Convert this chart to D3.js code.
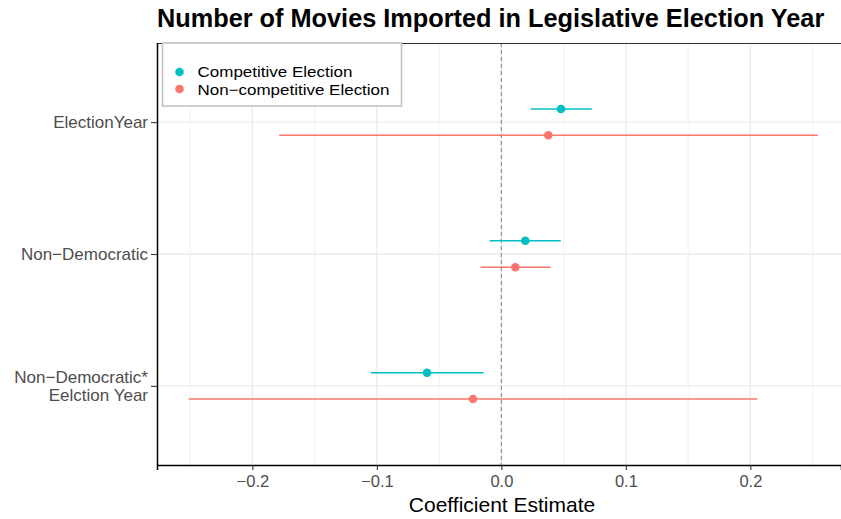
<!DOCTYPE html>
<html>
<head>
<meta charset="utf-8">
<script src="https://cdn.jsdelivr.net/npm/d3@7"></script>
<style>
  body { margin: 0; background: #fff; }
  text { font-family: "Liberation Sans", Arial, sans-serif; }
</style>
</head>
<body>
<div class="CoefPlot"></div>
<script>
// data
const terms = ["ElectionYear", "Non\u2212Democratic", "Non\u2212Democratic*\nEelction Year"]
const groups = ["Competitive Election", "Non\u2212competitive Election"]
const colors = ["#00BFC4", "#F8766D"]
const estComp = [0.0479, 0.0192, -0.0597]
const lowComp = [0.0235, -0.0095, -0.1048]
const highComp = [0.0726, 0.0477, -0.0143]
const estNon = [0.0377, 0.0112, -0.0228]
const lowNon = [-0.1784, -0.0167, -0.2512]
const highNon = [0.2541, 0.0396, 0.2056]
const xTicks = [-0.2, -0.1, 0, 0.1, 0.2]
const xMinor = [-0.25, -0.15, -0.05, 0.05, 0.15, 0.25]

const rows = []
terms.forEach((t, i) => {
  rows.push({term: t, group: 0, est: estComp[i], lo: lowComp[i], hi: highComp[i]})
  rows.push({term: t, group: 1, est: estNon[i], lo: lowNon[i], hi: highNon[i]})
})

const width = 841
const height = 519
const margin = ({top: 43, right: 0, bottom: 54, left: 157})

let x = d3.scaleLinear()
  .domain([-0.2766, 0.2728])
  .range([margin.left, width - margin.right])

// discrete axis, ggplot style expansion of 0.6 each side
let y = d3.scaleLinear()
  .domain([0.4, 3.6])
  .range([margin.top, height - margin.bottom])

const dodge = 0.1

const svg = d3.select(".CoefPlot").append("svg")
  .attr("width", width)
  .attr("height", height)
  .attr("viewBox", [0, 0, width, height])

// grid
let grid = g => g
  .attr("stroke", "#EBEBEB")
  .call(g => g.append("g")
    .attr("stroke-width", 0.7)
    .selectAll("line")
    .data(xMinor)
    .join("line")
      .attr("x1", d => x(d))
      .attr("x2", d => x(d))
      .attr("y1", margin.top)
      .attr("y2", height - margin.bottom))
  .call(g => g.append("g")
    .attr("stroke-width", 1.4)
    .selectAll("line")
    .data(xTicks)
    .join("line")
      .attr("x1", d => x(d))
      .attr("x2", d => x(d))
      .attr("y1", margin.top)
      .attr("y2", height - margin.bottom))
  .call(g => g.append("g")
    .attr("stroke-width", 1.4)
    .selectAll("line")
    .data(terms)
    .join("line")
      .attr("y1", (d, i) => y(i + 1))
      .attr("y2", (d, i) => y(i + 1))
      .attr("x1", margin.left)
      .attr("x2", width - margin.right))

svg.append("g").call(grid)

// zero reference line
svg.append("line")
  .attr("x1", x(0)).attr("x2", x(0))
  .attr("y1", margin.top).attr("y2", height - margin.bottom)
  .attr("stroke", "#8C8C8C")
  .attr("stroke-width", 1.1)
  .attr("stroke-dasharray", "4,3")

// top border of the panel
svg.append("line")
  .attr("x1", margin.left).attr("x2", width)
  .attr("y1", margin.top + 0.5).attr("y2", margin.top + 0.5)
  .attr("stroke", "#333")
  .attr("stroke-width", 1)

// intervals and points
const yPos = d => y(terms.indexOf(d.term) + 1 + (d.group === 0 ? -dodge : dodge))

svg.append("g")
  .attr("stroke-width", 1.5)
  .selectAll("line")
  .data(rows)
  .join("line")
    .attr("x1", d => x(d.lo))
    .attr("x2", d => x(d.hi))
    .attr("y1", yPos)
    .attr("y2", yPos)
    .attr("stroke", d => colors[d.group])

svg.append("g")
  .selectAll("circle")
  .data(rows)
  .join("circle")
    .attr("cx", d => x(d.est))
    .attr("cy", yPos)
    .attr("r", 4.3)
    .attr("fill", d => colors[d.group])

// axes
let xAxis = g => g
  .attr("transform", `translate(0,${height - margin.bottom})`)
  .call(d3.axisBottom(x).tickValues(xTicks).tickSize(5).tickPadding(5)
    .tickFormat(d => d === 0 ? "0.0" : d3.format(".1f")(d).replace("-", "\u2212")))
  .call(g => g.select(".domain").attr("stroke", "#000").attr("stroke-width", 1.5))
  .call(g => g.selectAll(".tick line").attr("stroke", "#333").attr("stroke-width", 1.1))
  .call(g => g.selectAll(".tick text").attr("fill", "#4D4D4D").attr("font-size", 16.5)
    .attr("font-family", "Liberation Sans, Arial, sans-serif"))

let yAxis = g => g
  .attr("transform", `translate(${margin.left},0)`)
  .call(d3.axisLeft(y).tickValues([1, 2, 3]).tickSize(6).tickFormat(""))
  .call(g => g.select(".domain").attr("stroke", "#000").attr("stroke-width", 1.5)
    .attr("d", `M0.5,${margin.top}V${height - margin.bottom}`))
  .call(g => g.selectAll(".tick line").attr("stroke", "#333").attr("stroke-width", 1.1))

svg.append("g").call(xAxis)
svg.append("g").call(yAxis)

// y labels (multi line)
svg.append("g")
  .attr("fill", "#4D4D4D")
  .attr("font-size", 17)
  .attr("text-anchor", "end")
  .selectAll("text")
  .data(terms)
  .join("text")
    .attr("transform", (d, i) => {
      const n = d.split("\n").length
      return `translate(${margin.left - 9},${y(i + 1) + 6 - (n - 1) * 9})`
    })
    .selectAll("tspan")
    .data(d => d.split("\n"))
    .join("tspan")
      .attr("x", 0)
      .attr("dy", (d, i) => i === 0 ? 0 : 18)
      .text(d => d)

// axis title
svg.append("text")
  .attr("x", (margin.left + width) / 2 + 3)
  .attr("y", height - 7)
  .attr("text-anchor", "middle")
  .attr("font-size", 21)
  .attr("fill", "#000")
  .text("Coefficient Estimate")

// title
svg.append("text")
  .attr("x", margin.left)
  .attr("y", 27)
  .attr("font-size", 25.3)
  .attr("font-weight", "bold")
  .attr("fill", "#000")
  .text("Number of Movies Imported in Legislative Election Year")

// legend
const legendWidths = [155, 192]
const legend = svg.append("g")
  .attr("transform", "translate(162.5,43)")
legend.append("rect")
  .attr("width", 239)
  .attr("height", 63)
  .attr("fill", "#fff")
  .attr("stroke", "#BEBEBE")
  .attr("stroke-width", 1.5)
legend.selectAll("circle")
  .data(groups)
  .join("circle")
    .attr("cx", 17)
    .attr("cy", (d, i) => 29 + i * 17)
    .attr("r", 4.3)
    .attr("fill", (d, i) => colors[i])
legend.selectAll("text")
  .data(groups)
  .join("text")
    .attr("x", 35)
    .attr("y", (d, i) => 34.3 + i * 17.3)
    .attr("font-size", 15)
    .attr("textLength", (d, i) => legendWidths[i])
    .attr("lengthAdjust", "spacingAndGlyphs")
    .attr("fill", "#000")
    .text(d => d)
</script>
</body>
</html>
